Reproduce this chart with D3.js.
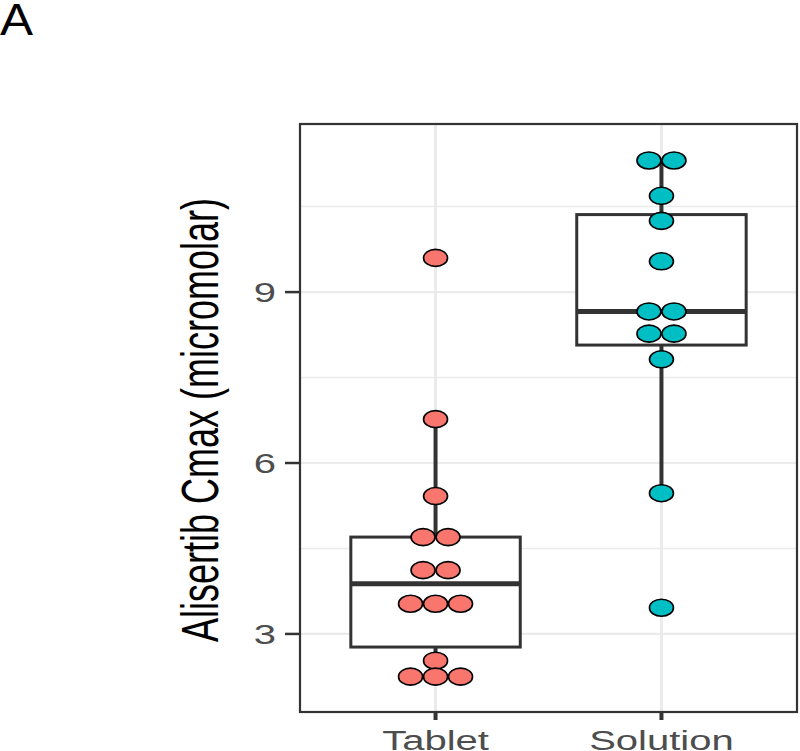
<!DOCTYPE html>
<html>
<head>
<meta charset="utf-8">
<script src="https://cdn.jsdelivr.net/npm/d3@7"></script>
<style>
  body { margin: 0; background: #fff; }
  svg { display: block; }
</style>
</head>
<body>
<div id="chart"></div>
<script>
// groups and the dot values
var groups = ["Tablet", "Solution"];
var groupColors = ["#F8766D", "#00BFC4"];
var tabletValues = [9.6, 6.77, 5.42, 4.70, 4.70, 4.12, 4.12, 3.53, 3.53, 3.53, 2.53, 2.25, 2.25, 2.25];
var solutionValues = [11.31, 11.31, 10.69, 10.25, 9.54, 8.66, 8.66, 8.27, 8.27, 7.82, 5.47, 3.46];

// box stats as drawn (Tablet, Solution)
var boxLower = [2.77, 8.07];
var boxMedian = [3.88, 8.66];
var boxUpper = [4.70, 10.36];
var whiskerLow = [2.25, 5.47];
var whiskerHigh = [6.77, 11.31];

var yTicks = [3, 6, 9];
var yMinor = [4.5, 7.5, 10.5];

var width = 800,
    height = 751;
var panel = {left: 300, right: 797, top: 124, bottom: 712};
var stretch = 1.43; // picture is stretched sideways

var svg = d3.select("#chart")
  .append("svg")
    .attr("width", width)
    .attr("height", height);

var y = d3.scaleLinear()
    .domain([1.63, 11.95])
    .range([panel.bottom, panel.top]);

var x = d3.scalePoint()
    .domain(groups)
    .range([panel.left, panel.right])
    .padding(0.6);

var boxW = x.step() * 0.75;

// gridlines
var grid = svg.append("g");
grid.selectAll(".minor")
  .data(yMinor)
  .enter()
  .append("line")
    .attr("x1", panel.left).attr("x2", panel.right)
    .attr("y1", d => y(d)).attr("y2", d => y(d))
    .attr("stroke", "#ebebeb")
    .attr("stroke-width", 1.5);
grid.selectAll(".major")
  .data(yTicks)
  .enter()
  .append("line")
    .attr("x1", panel.left).attr("x2", panel.right)
    .attr("y1", d => y(d)).attr("y2", d => y(d))
    .attr("stroke", "#ebebeb")
    .attr("stroke-width", 2.2);
grid.selectAll(".vmajor")
  .data(groups)
  .enter()
  .append("line")
    .attr("x1", d => x(d)).attr("x2", d => x(d))
    .attr("y1", panel.top).attr("y2", panel.bottom)
    .attr("stroke", "#ebebeb")
    .attr("stroke-width", 3);

// boxplots
var boxes = svg.append("g")
  .selectAll("g")
  .data(groups)
  .enter()
  .append("g");

boxes.append("line")   // upper whisker
    .attr("x1", d => x(d)).attr("x2", d => x(d))
    .attr("y1", (d, i) => y(boxUpper[i])).attr("y2", (d, i) => y(whiskerHigh[i]))
    .attr("stroke", "#333333").attr("stroke-width", 4);
boxes.append("line")   // lower whisker
    .attr("x1", d => x(d)).attr("x2", d => x(d))
    .attr("y1", (d, i) => y(boxLower[i])).attr("y2", (d, i) => y(whiskerLow[i]))
    .attr("stroke", "#333333").attr("stroke-width", 4);
boxes.append("rect")
    .attr("x", d => x(d) - boxW / 2)
    .attr("width", boxW)
    .attr("y", (d, i) => y(boxUpper[i]))
    .attr("height", (d, i) => y(boxLower[i]) - y(boxUpper[i]))
    .attr("fill", "white")
    .attr("stroke", "#333333")
    .attr("stroke-width", 3);
boxes.append("line")   // median
    .attr("x1", d => x(d) - boxW / 2).attr("x2", d => x(d) + boxW / 2)
    .attr("y1", (d, i) => y(boxMedian[i])).attr("y2", (d, i) => y(boxMedian[i]))
    .attr("stroke", "#333333").attr("stroke-width", 5);

// dots: equal values stack side by side, centred on the group
var dotW = 25, rx = 12, ry = 8.5;
function stackDots(group, values, gi) {
  var counts = d3.rollup(values, v => v.length, v => v);
  var seen = new Map();
  return values.map(function(v) {
    var n = counts.get(v);
    var k = seen.get(v) || 0;
    seen.set(v, k + 1);
    return {group: group, value: v, cx: x(group) + (k - (n - 1) / 2) * dotW, color: groupColors[gi]};
  });
}
var dots = stackDots("Tablet", tabletValues, 0).concat(stackDots("Solution", solutionValues, 1));

svg.append("g")
  .selectAll("ellipse")
  .data(dots)
  .enter()
  .append("ellipse")
    .attr("cx", d => d.cx)
    .attr("cy", d => y(d.value))
    .attr("rx", rx)
    .attr("ry", ry)
    .attr("fill", d => d.color)
    .attr("stroke", "black")
    .attr("stroke-width", 1.6);

// panel border
svg.append("rect")
    .attr("x", panel.left)
    .attr("y", panel.top)
    .attr("width", panel.right - panel.left)
    .attr("height", panel.bottom - panel.top)
    .attr("fill", "none")
    .attr("stroke", "#333333")
    .attr("stroke-width", 2.2);

// y axis ticks and labels
var yAxis = svg.append("g");
yAxis.selectAll("line")
  .data(yTicks)
  .enter()
  .append("line")
    .attr("x1", panel.left - 15).attr("x2", panel.left)
    .attr("y1", d => y(d)).attr("y2", d => y(d))
    .attr("stroke", "#333333").attr("stroke-width", 2.5);
yAxis.selectAll("text")
  .data(yTicks)
  .enter()
  .append("text")
    .attr("transform", d => "translate(276," + (y(d) + 10) + ") scale(" + stretch + ",1)")
    .attr("text-anchor", "end")
    .attr("font-family", "Liberation Sans, Arial, sans-serif")
    .attr("font-size", 28)
    .attr("fill", "#4d4d4d")
    .text(d => d);

// x axis ticks and labels
var xAxis = svg.append("g");
xAxis.selectAll("line")
  .data(groups)
  .enter()
  .append("line")
    .attr("x1", d => x(d)).attr("x2", d => x(d))
    .attr("y1", panel.bottom).attr("y2", panel.bottom + 8)
    .attr("stroke", "#333333").attr("stroke-width", 4);
xAxis.selectAll("text")
  .data(groups)
  .enter()
  .append("text")
    .attr("transform", d => "translate(" + x(d) + ",750) scale(" + stretch + ",1)")
    .attr("text-anchor", "middle")
    .attr("font-family", "Liberation Sans, Arial, sans-serif")
    .attr("font-size", 28)
    .attr("fill", "#4d4d4d")
    .text(d => d);

// y axis title
svg.append("text")
    .attr("transform", "translate(218,420) scale(" + stretch + ",1) rotate(-90)")
    .attr("text-anchor", "middle")
    .attr("font-family", "Liberation Sans, Arial, sans-serif")
    .attr("font-size", 36)
    .attr("fill", "black")
    .text("Alisertib Cmax (micromolar)");

// panel tag
svg.append("text")
    .attr("transform", "translate(0,35) scale(1.1,1)")
    .attr("font-family", "Liberation Sans, Arial, sans-serif")
    .attr("font-size", 45)
    .attr("fill", "black")
    .text("A");
</script>
</body>
</html>
